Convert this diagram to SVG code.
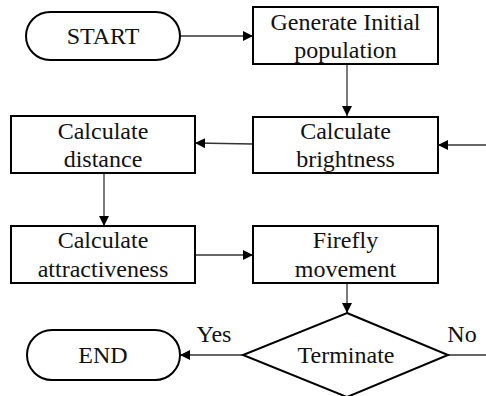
<svg xmlns="http://www.w3.org/2000/svg" width="486" height="396" viewBox="0 0 486 396">
<defs>
<marker id="ah" viewBox="0 0 10 10" refX="10" refY="5" markerWidth="10" markerHeight="10" markerUnits="userSpaceOnUse" orient="auto">
<path d="M0,0 L10,5 L0,10 z" fill="#000"/>
</marker>
<style>
.shape{fill:#fff;stroke:#000;stroke-width:2}
.t{font-family:"Liberation Serif","Times New Roman",serif;font-size:24px;fill:#111;text-anchor:middle}
.c{fill:none;stroke:#333;stroke-width:1.3;marker-end:url(#ah)}
.l{fill:none;stroke:#333;stroke-width:1.3}
</style>
</defs>
<rect width="486" height="396" fill="#fff"/>
<g id="connectors">
<line class="c" x1="180" y1="36" x2="253" y2="36"/>
<line class="c" x1="347" y1="64" x2="347" y2="116"/>
<line class="c" x1="486" y1="145" x2="438" y2="145"/>
<line class="c" x1="253" y1="144" x2="195" y2="143"/>
<line class="c" x1="104" y1="173" x2="104" y2="226"/>
<line class="c" x1="195" y1="255" x2="253" y2="255"/>
<line class="c" x1="347" y1="283" x2="347" y2="313"/>
<line class="c" x1="243" y1="355" x2="180" y2="355"/>
<line class="l" x1="448" y1="355" x2="486" y2="355"/>
<text class="t" x="214" y="342">Yes</text>
<text class="t" x="462" y="342">No</text>
</g>
<g id="start">
<rect class="shape" x="26" y="12" width="154" height="48" rx="24" ry="24"/>
<text class="t" x="103" y="44">START</text>
</g>
<g id="generate">
<rect class="shape" x="253" y="7" width="185" height="57"/>
<text class="t" x="345.5" y="30">Generate Initial</text>
<text class="t" x="345.5" y="58">population</text>
</g>
<g id="brightness">
<rect class="shape" x="253" y="117" width="185" height="56"/>
<text class="t" x="345.5" y="139">Calculate</text>
<text class="t" x="345.5" y="167">brightness</text>
</g>
<g id="distance">
<rect class="shape" x="11" y="116" width="184" height="57"/>
<text class="t" x="103" y="139">Calculate</text>
<text class="t" x="103" y="167">distance</text>
</g>
<g id="attractiveness">
<rect class="shape" x="11" y="226" width="184" height="57"/>
<text class="t" x="103" y="248">Calculate</text>
<text class="t" x="103" y="277">attractiveness</text>
</g>
<g id="firefly">
<rect class="shape" x="253" y="226" width="185" height="57"/>
<text class="t" x="345.5" y="248">Firefly</text>
<text class="t" x="345.5" y="277">movement</text>
</g>
<g id="terminate">
<polygon class="shape" points="347,313 448,355 347,397 243,355"/>
<text class="t" x="346" y="363">Terminate</text>
</g>
<g id="end">
<rect class="shape" x="27" y="330" width="153" height="50" rx="25" ry="25"/>
<text class="t" x="103" y="363">END</text>
</g>
</svg>
